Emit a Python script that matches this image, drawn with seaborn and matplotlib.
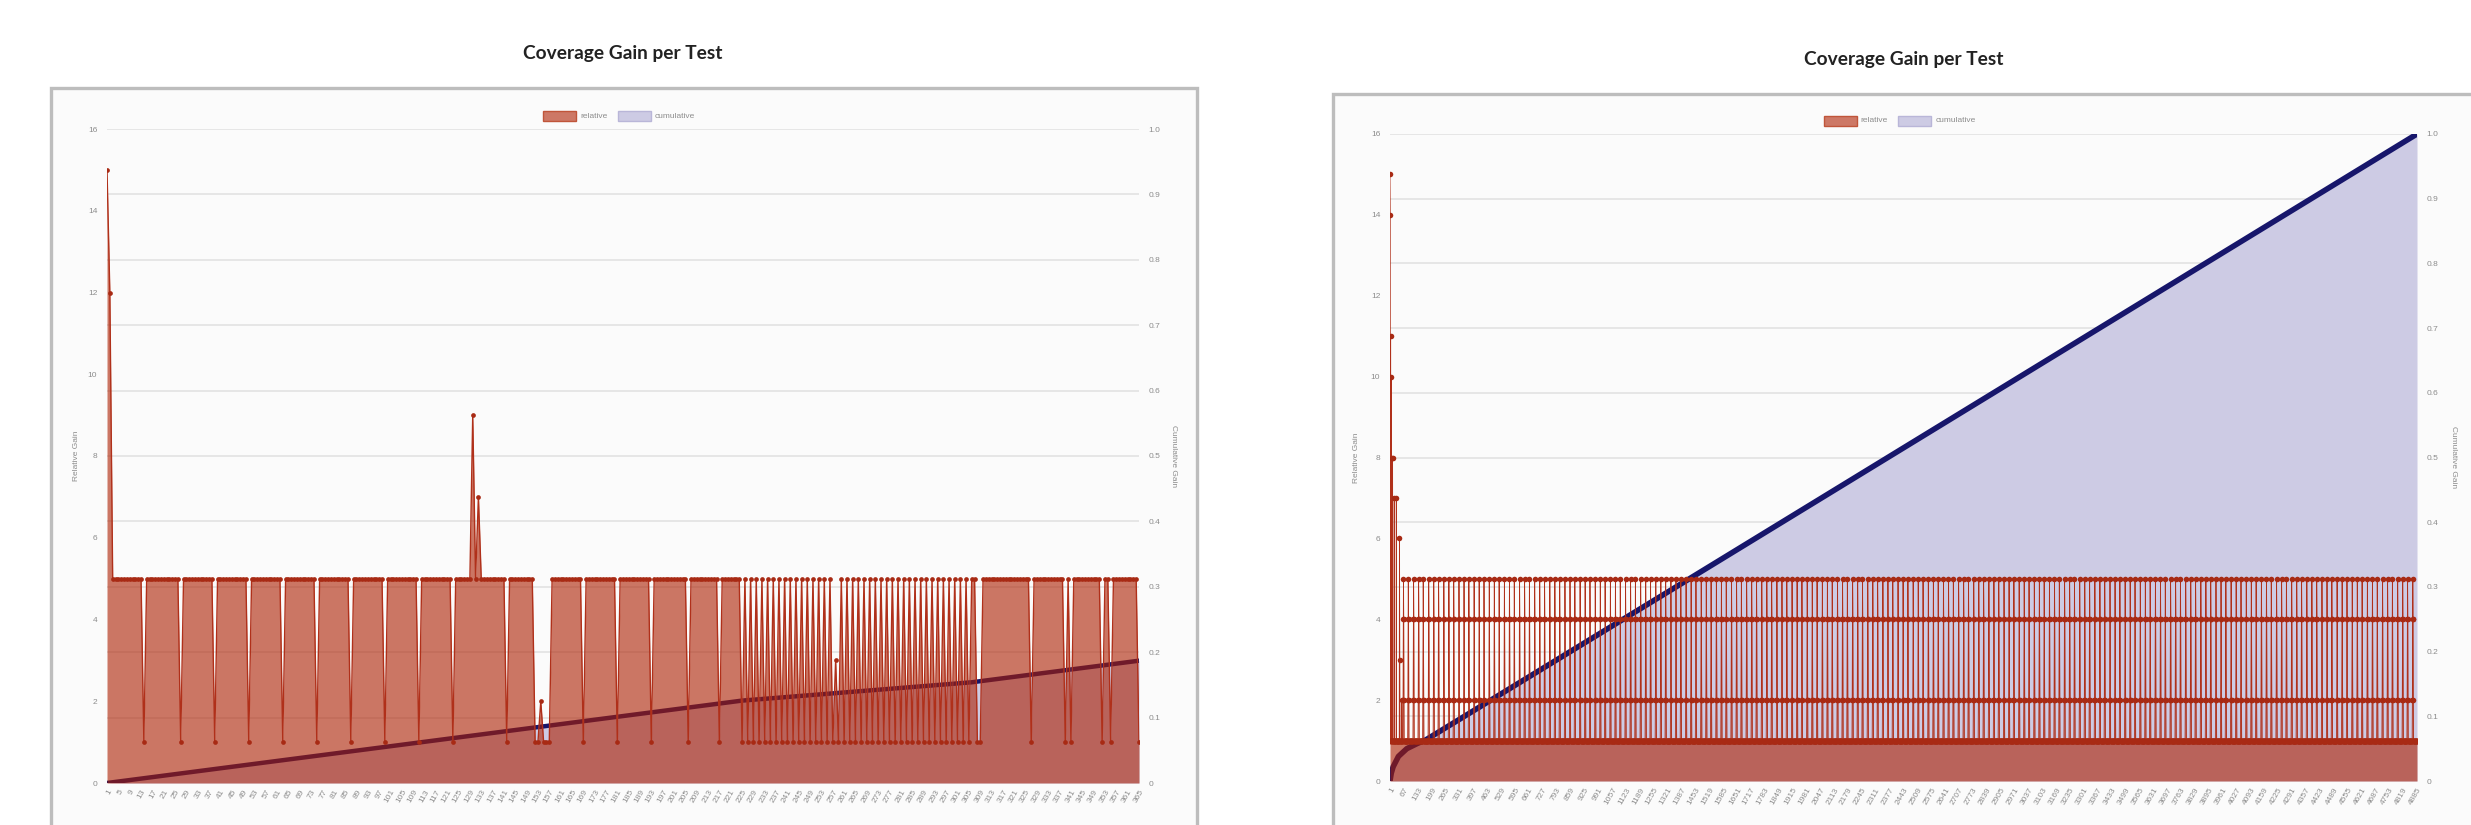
import numpy as np
import matplotlib
matplotlib.use("Agg")
import matplotlib.pyplot as plt
import seaborn as sns
from matplotlib.patches import Rectangle

# ---------------- data ----------------
TITLE = "Coverage Gain per Test"
LEGEND_LABELS = ["relative", "cumulative"]
Y_LEFT_LABEL = "Relative Gain"
Y_RIGHT_LABEL = "Cumulative Gain"
LEFT_TICKS = [0, 2, 4, 6, 8, 10, 12, 14, 16]
RIGHT_TICKS = [0, 0.1, 0.2, 0.3, 0.4, 0.5, 0.6, 0.7, 0.8, 0.9, 1.0]
RIGHT_TICK_LABELS = ["0", "0.1", "0.2", "0.3", "0.4", "0.5", "0.6", "0.7", "0.8", "0.9", "1.0"]

# left chart: 365 tests, relative gain mostly 5 with drops to 1
left_n_tests = 365
left_base_value = 5
left_head_idx = [0, 1]
left_head_val = [15, 12]
left_drop_idx = [13, 26, 38, 50, 62, 74, 86, 98, 110, 122, 141, 151, 152, 154, 155, 156,
                 168, 180, 192, 205, 216, 307, 308, 326, 338, 340, 351, 354, 364]
left_dense_start, left_dense_end = 224, 304      # alternating 1 / 5 stretch
left_special_idx = [129, 131, 153, 257]
left_special_val = [9, 7, 2, 3]
left_tick_step = 4
left_cum_idx = [0, 224, 305, 364]
left_cum_val = [0.0, 0.126, 0.154, 0.187]

# right chart: 4885 tests, relative gain mostly 1 with spikes up to 2/4/5
right_n_tests = 4885
right_base_value = 1
right_head_idx = [0, 1, 3, 5, 8, 12, 20, 30, 45, 46, 56]
right_head_val = [15, 14, 11, 10, 8, 8, 7, 7, 6, 3, 2]
right_spike_shape = [2, 4, 5, 4, 2]
right_spike_idx = [62, 85, 110, 134, 156, 182, 206, 229, 254, 278, 301, 326, 350, 373, 398, 422,
                   445, 470, 494, 517, 542, 566, 589, 614, 638, 661, 686, 710, 733, 758, 782, 805,
                   830, 854, 877, 902, 926, 949, 974, 998, 1021, 1046, 1070, 1093, 1118, 1142,
                   1165, 1190, 1214, 1237, 1262, 1286, 1309, 1334, 1358, 1381, 1406, 1430, 1453,
                   1478, 1502, 1525, 1550, 1574, 1597, 1622, 1646, 1669, 1694, 1718, 1741, 1766,
                   1790, 1813, 1838, 1862, 1885, 1910, 1934, 1957, 1982, 2006, 2029, 2054, 2078,
                   2101, 2126, 2150, 2173, 2198, 2222, 2245, 2270, 2294, 2317, 2342, 2366, 2389,
                   2414, 2438, 2461, 2486, 2510, 2533, 2558, 2582, 2605, 2630, 2654, 2677, 2702,
                   2726, 2749, 2774, 2798, 2821, 2846, 2870, 2893, 2918, 2942, 2965, 2990, 3014,
                   3037, 3062, 3086, 3109, 3134, 3158, 3181, 3206, 3230, 3253, 3278, 3302, 3325,
                   3350, 3374, 3397, 3422, 3446, 3469, 3494, 3518, 3541, 3566, 3590, 3613, 3638,
                   3662, 3685, 3710, 3734, 3757, 3782, 3806, 3829, 3854, 3878, 3901, 3926, 3950,
                   3973, 3998, 4022, 4045, 4070, 4094, 4117, 4142, 4166, 4189, 4214, 4238, 4261,
                   4286, 4310, 4333, 4358, 4382, 4405, 4430, 4454, 4477, 4502, 4526, 4549, 4574,
                   4598, 4621, 4646, 4670, 4693, 4718, 4742, 4765, 4790, 4814, 4837, 4862]
right_tick_step = 66
right_cum_idx = [0, 6, 15, 40, 80, 130, 170, 4884]
right_cum_val = [0.0, 0.012, 0.022, 0.038, 0.050, 0.058, 0.0635, 1.0]

# ---------------- build series ----------------
left_rel = np.full(left_n_tests, float(left_base_value))
left_rel[left_head_idx] = left_head_val
left_rel[left_drop_idx] = 1
left_rel[left_dense_start:left_dense_end + 1:2] = 1
left_rel[left_special_idx] = left_special_val

right_rel = np.full(right_n_tests, float(right_base_value))
right_rel[right_head_idx] = right_head_val
for s in right_spike_idx:
    right_rel[s:s + len(right_spike_shape)] = right_spike_shape

# ---------------- style ----------------
sns.set_theme(style="white")
plt.rcParams['font.family'] = ['Liberation Sans', 'DejaVu Sans']

REL_FILL = (172 / 255, 30 / 255, 0, 0.6)
REL_LINE = '#B0301A'
REL_DOT = '#A82A14'
CUM_FILL = '#CDCBE4'
CUM_LINE = '#17166B'
GRID = '#E4E4E4'
TXT = '#8C8C8C'

W, H = 2471, 825
fig = plt.figure(figsize=(W / 100, H / 100), dpi=100)
fig.patch.set_facecolor('white')


def fx(px):
    return px / W


def fy(py):
    return 1 - py / H


def chart_box(x0, y0, x1, y1):
    fig.patches.append(Rectangle((fx(x0), fy(y1)), fx(x1) - fx(x0), fy(y0) - fy(y1),
                                 transform=fig.transFigure, facecolor='#FBFBFB',
                                 edgecolor='#BDBDBD', linewidth=2.4, zorder=-5))


def legend(cx, cy):
    items = [(LEGEND_LABELS[0], '#CD7866', '#C0553A', 33, 34),
             (LEGEND_LABELS[1], CUM_FILL, '#B9B6D8', 33, 48)]
    x = cx - 80
    for lab, fc, ec, bw, tw in items:
        fig.patches.append(Rectangle((fx(x), fy(cy + 5)), fx(bw), 10 / H,
                                     transform=fig.transFigure, facecolor=fc,
                                     edgecolor=ec, linewidth=1.0, zorder=3))
        fig.text(fx(x + bw + 4), fy(cy), lab, fontsize=6, color=TXT,
                 ha='left', va='center')
        x += bw + 8 + tw


def panel(px0, px1, py0, py1, rel, cum_idx, cum_val, tick_step, title_y, legend_y,
          ylab_l_x, ylab_r_x, rot, msize, lw, cum_lw):
    n = len(rel)
    xs = np.arange(n)
    ax_c = fig.add_axes([fx(px0), fy(py1), fx(px1) - fx(px0), (py1 - py0) / H])
    ax_c.set_zorder(1)
    ax_c.set_facecolor('none')
    ax_c.set_xlim(0, n - 1)
    ax_c.set_ylim(0, 1)
    ax_c.grid(axis='y', color=GRID, linewidth=1.3)
    ax_c.grid(axis='x', visible=False)
    ax_c.set_axisbelow(True)
    ax_c.fill_between(cum_idx, cum_val, 0, color=CUM_FILL, linewidth=0, zorder=1)
    sns.lineplot(x=cum_idx, y=cum_val, ax=ax_c, color=CUM_LINE, linewidth=cum_lw,
                 estimator=None, zorder=2)

    ax_r = ax_c.twinx()
    ax_r.set_zorder(2)
    ax_r.patch.set_visible(False)
    ax_r.set_ylim(0, 16)
    ax_r.fill_between(xs, rel, 0, color=REL_FILL, linewidth=0, zorder=1)
    sns.lineplot(x=xs, y=rel, ax=ax_r, color=REL_LINE, linewidth=lw, estimator=None,
                 marker='o', markersize=msize, markeredgewidth=0,
                 markerfacecolor=REL_DOT, zorder=2)

    # left axis = relative gain, right axis = cumulative gain
    ax_r.yaxis.tick_left()
    ax_r.set_yticks(LEFT_TICKS)
    ax_r.set_yticklabels([str(t) for t in LEFT_TICKS])
    ax_c.yaxis.tick_right()
    ax_c.set_yticks(RIGHT_TICKS)
    ax_c.set_yticklabels(RIGHT_TICK_LABELS)

    ticks = list(range(0, n, tick_step))
    ax_c.set_xticks(ticks)
    ax_c.set_xticklabels([str(t + 1) for t in ticks], rotation=rot, ha='right',
                         rotation_mode='anchor')
    for a in (ax_c, ax_r):
        for sp in a.spines.values():
            sp.set_visible(False)
        a.tick_params(length=0, labelsize=6, labelcolor=TXT, pad=7)
        a.set_ylabel('')
        a.set_xlabel('')
    ax_c.tick_params(axis='x', pad=4)

    cx = (px0 + px1) / 2
    fig.text(fx(cx), fy(title_y), TITLE, fontsize=13.8, fontweight='bold',
             family=['Lato', 'DejaVu Sans'], color='#222222', ha='center', va='center')
    legend(cx, legend_y)
    cy = (py0 + py1) / 2
    fig.text(fx(ylab_l_x), fy(cy), Y_LEFT_LABEL, rotation=90, fontsize=6, color=TXT,
             ha='center', va='center')
    fig.text(fx(ylab_r_x), fy(cy), Y_RIGHT_LABEL, rotation=-90, fontsize=6, color=TXT,
             ha='center', va='center')


chart_box(51, 88, 1197, 860)
chart_box(1333, 94, 2500, 860)

panel(107, 1139, 129, 783, left_rel, left_cum_idx, left_cum_val, left_tick_step,
      53, 116, 76, 1174, 60, 3.4, 1.0, 3.2)
panel(1390, 2417, 134, 781, right_rel, right_cum_idx, right_cum_val, right_tick_step,
      60, 121, 1357, 2453, 60, 4.0, 0.6, 4.0)

fig.savefig('out.png', dpi=100, facecolor='white')
